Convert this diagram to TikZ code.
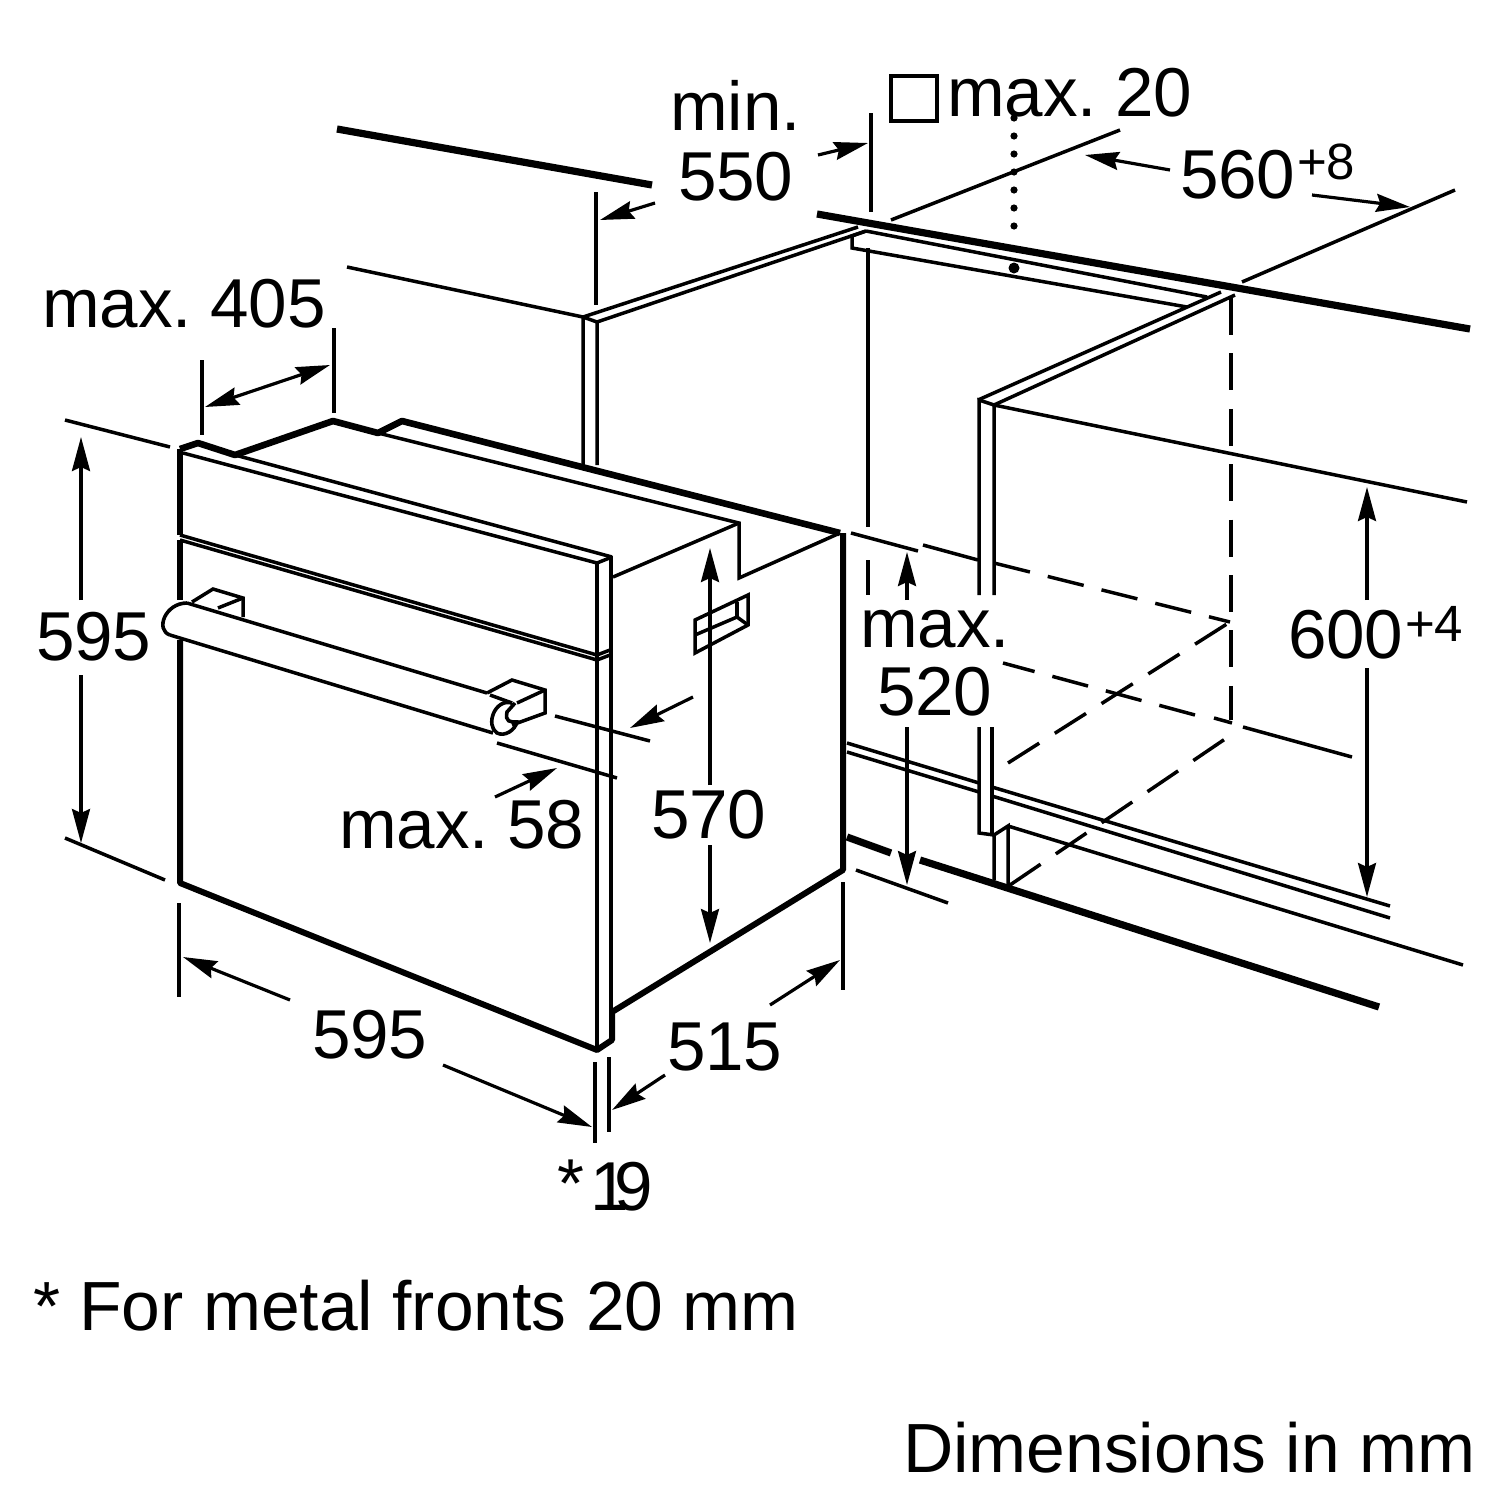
\documentclass[tikz,border=0pt]{standalone}
\usepackage{fontspec}
\setmainfont{Liberation Sans}
\newfontfamily\lblfont{Liberation Sans}[WordSpace=0.62]
\usetikzlibrary{arrows.meta}
\tikzset{
  lnthin/.style={line width=1.75pt,line cap=butt,line join=miter},
  lnedge/.style={line width=3pt,line join=round},
  lnbold/.style={line width=3.6pt,line join=miter},
  lndash/.style={line width=1.75pt,dash pattern=on 18.5pt off 9.2pt},
  dimarrow/.style={line width=1.6pt,-{Stealth[length=17pt,width=9pt,inset=2pt]}},
  lbl/.style={anchor=base west,inner sep=0pt,outer sep=0pt,font=\lblfont\fontsize{34.6}{35}\selectfont},
  suplbl/.style={anchor=base west,inner sep=0pt,outer sep=0pt,font=\fontsize{25.5}{26}\selectfont},
  txtlbl/.style={anchor=base west,inner sep=0pt,outer sep=0pt,font=\fontsize{34.8}{35}\selectfont},
}
\begin{document}
\begin{tikzpicture}[x=0.5pt,y=-0.5pt]
\useasboundingbox (0,0) rectangle (1500,1500);
% counter / worktop
\draw[lnbold] (337,129) -- (652,185);
\draw[lnbold] (817,214) -- (1470,329);
% cabinet left
\draw[lnthin] (347,267) -- (583,317);
\draw[lnthin] (583,465) -- (583,317) -- (858,227);
\draw[lnthin] (597,465) -- (597,322) -- (866,231);
\draw[lnthin] (583,317) -- (597,322);
% rail under worktop
\draw[lnthin] (866,231) -- (1207,297);
\draw[lnthin] (866,231) -- (852,236) -- (852,248) -- (1187,307);
\draw[lnthin] (868,248) -- (868,527);
\draw[lndash] (868,560) -- (868,595);
\fill (1014,268) circle (5.5);
\draw[line width=3.6pt,line cap=round,dash pattern=on 0pt off 9pt] (1014,118) -- (1014,240);
% right cabinet
\draw[lnthin] (1221,292) -- (978,400) ;
\draw[lnthin] (1235,295) -- (994,405);
\draw[lnthin] (979,595) -- (979,400) -- (994,405) -- (994,595);
\draw[lnthin] (994,405) -- (1467,502);
\draw[lnthin] (979,727) -- (979,833) -- (994,835) -- (994,880);
\draw[lnthin] (992,727) -- (992,835);
\draw[lnthin] (994,835) -- (1008,826) -- (1008,887);
\draw[lnthin] (1008,826) -- (1463,965);
% lower rail
\draw[lnthin] (847,743) -- (979,783);
\draw[lnthin] (847,752) -- (979,792);
\draw[lnthin] (992,787) -- (1390,906);
\draw[lnthin] (992,796) -- (1390,918);
% floor
\draw[lnbold] (847,837) -- (891,853);
\draw[lnbold] (920,860) -- (1379,1007);
\draw[lnthin] (856,870) -- (948,903);
% dashed opening
\draw[lnthin] (851,533) -- (918,551);
\draw[lnthin] (923,545) -- (978,560);
\draw[lndash] (994,563) -- (1230,622);
\draw[lndash] (1231,298) -- (1231,720);
\draw[lndash] (1008,763) -- (1230,622);
\draw[lndash] (1010,885) -- (1228,737);
\draw[lndash] (1195,715) -- (1003,663);
\draw[lnthin] (1214,718) -- (1232,723);
\draw[lnthin] (1243,727) -- (1352,757);
% oven top outline
\draw[lnedge,line width=3.3pt] (180,449) -- (198,443) -- (235,455) -- (333,421) -- (378,433) -- (402,421) -- (840,533);
\draw[lnthin] (378,433) -- (739,523) -- (739,578) -- (840,533);
\draw[lnthin] (613,577) -- (739,523);
% oven front
\draw[lnedge] (180,449) -- (180,535);
\draw[lnedge] (180,540) -- (180,600);
\draw[lnedge] (180,640) -- (180,883) -- (597,1050) -- (612,1040) -- (612,1012) -- (843,870) -- (843,533);
\draw[lnthin] (183,453) -- (597,563);
\draw[lnthin] (235,455) -- (612,557);
\draw[lnthin] (180,535) -- (597,655) -- (610,650);
\draw[lnthin] (180,540) -- (597,660) -- (610,655);
\draw[lnthin] (597,563) -- (612,557);
\draw[lnthin] (597,563) -- (597,1050);
\draw[lnthin] (611,556) -- (611,1012);
% handle
\draw[lnthin] (187,603) -- (487,693);
\draw[lnthin] (170,635) -- (493,733);
\draw[line width=1.8pt] (187,603) .. controls (165,603) and (155,630) .. (170,635);
\draw[lnthin] (192,602) -- (213,589) -- (243,598) -- (243,617);
\draw[lnthin] (218,608) -- (243,598);
\draw[lnthin] (487,693) -- (512,680) -- (545,690) -- (545,713) -- (512,725);
\draw[lnthin] (517,703) -- (545,690);
\draw[lnthin] (490,695) -- (512,703);
\draw[line width=1.8pt] (512,703) .. controls (495,698) and (485,725) .. (497,733) .. controls (505,737) and (515,730) .. (517,722) .. controls (510,722) and (505,722) .. (507,712) -- (515,703);
% side recess
\draw[lnthin] (695,620) -- (748,595) -- (748,625) -- (695,653) -- cycle;
\draw[lnthin] (695,635) -- (737,617) -- (748,625);
\draw[lnthin] (737,617) -- (737,602);
% extension lines
\draw[lnthin] (202,360) -- (202,435);
\draw[lnthin] (334,328) -- (334,413);
\draw[lnthin] (65,420) -- (170,447);
\draw[lnthin] (65,838) -- (165,880);
\draw[lnthin] (179,903) -- (179,997);
\draw[lnthin] (595,1062) -- (595,1143);
\draw[lnthin] (609,1057) -- (609,1132);
\draw[lnthin] (843,882) -- (843,990);
\draw[lnthin] (555,716) -- (650,741);
\draw[lnthin] (497,743) -- (617,778);
\draw[lnthin] (596,192) -- (596,305);
\draw[lnthin] (871,113) -- (871,212);
\draw[lnthin] (891,220) -- (1120,130);
\draw[lnthin] (1242,282) -- (1455,190);
% dimension arrows
\draw[dimarrow,{Stealth[length=17pt,width=9pt,inset=2pt]}-{Stealth[length=17pt,width=9pt,inset=2pt]}] (205,407) -- (330,365);
\draw[dimarrow] (81,600) -- (81,437);
\draw[dimarrow] (81,675) -- (81,843);
\draw[dimarrow] (290,1000) -- (183,957);
\draw[dimarrow] (443,1065) -- (592,1127);
\draw[dimarrow] (665,1075) -- (612,1110);
\draw[dimarrow] (770,1005) -- (840,960);
\draw[dimarrow] (710,785) -- (710,548);
\draw[dimarrow] (710,845) -- (710,943);
\draw[dimarrow] (495,797) -- (557,768);
\draw[dimarrow] (693,697) -- (630,728);
\draw[dimarrow] (907,600) -- (907,552);
\draw[dimarrow] (907,727) -- (907,885);
\draw[dimarrow] (1367,600) -- (1367,487);
\draw[dimarrow] (1367,668) -- (1367,897);
\draw[dimarrow] (1170,170) -- (1085,155);
\draw[dimarrow] (1312,195) -- (1410,207);
\draw[dimarrow] (655,203) -- (600,220);
\draw[dimarrow] (818,155) -- (868,143);
% square symbol
\draw[line width=1.8pt] (891,76) rectangle (937,121);
% labels
\node[lbl] (tmin) at (670,130) {min.};
\node[lbl] (t550) at (678,200) {550};
\node[lbl] (tmax20) at (947,116) {max. 20};
\node[lbl] (t560) at (1180,198) {560};
\node[suplbl] (t8) at (1297,179) {+8};
\node[lbl] (t405) at (42,327) {max. 405};
\node[lbl] (t595a) at (36,660) {595};
\node[lbl] (t595b) at (312,1058) {595};
\node[lbl] (t515) at (667,1070) {515};
\node[lbl] (t570) at (651,838) {570};
\node[lbl] (t58) at (339,848) {max. 58};
\node[lbl] (tmaxb) at (860,647) {max.};
\node[lbl] (t520) at (877,715) {520};
\node[lbl] (t600) at (1288,658) {600};
\node[suplbl] (t4) at (1405,641) {+4};
\node[lbl] (tstar) at (557,1207) {*};
\node[lbl,font=\fontsize{34.6}{35}\selectfont\addfontfeatures{LetterSpace=-20}] (t19) at (590,1210) {19};
\node[txtlbl] (tnote) at (33,1330) {* For metal fronts 20 mm};
\node[txtlbl] (tdim) at (903,1472) {Dimensions in mm};
\end{tikzpicture}
\end{document}
